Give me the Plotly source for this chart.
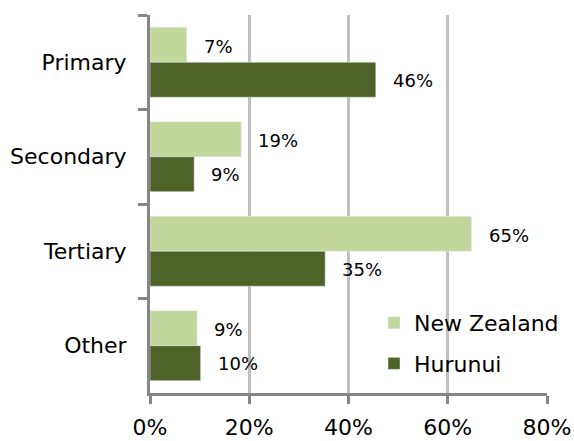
import plotly.graph_objects as go

categories = ["Primary", "Secondary", "Tertiary", "Other"]
nz_values = [7.4, 18.4, 64.8, 9.5]
hurunui_values = [45.5, 8.9, 35.3, 10.2]
nz_labels = ["7%", "19%", "65%", "9%"]
hurunui_labels = ["46%", "9%", "35%", "10%"]
x_ticks = [0, 20, 40, 60, 80]
x_tick_labels = ["0%", "20%", "40%", "60%", "80%"]

FONT = "DejaVu Sans"
AXIS_COLOR = "#868686"

fig = go.Figure()
fig.add_trace(go.Bar(
    y=categories, x=nz_values, orientation="h", name="New Zealand",
    marker=dict(color="#c3d69b"), legendgroup="a",
))
fig.add_trace(go.Bar(
    y=categories, x=hurunui_values, orientation="h", name="Hurunui",
    marker=dict(color="#4f6228"), legendgroup="b",
))

annotations = []
for cat, v, lab in zip(categories, nz_values, nz_labels):
    annotations.append(dict(x=v, y=cat, text=lab, showarrow=False, xanchor="left",
                            xshift=15, yshift=16, font=dict(family=FONT, size=18, color="#000")))
for cat, v, lab in zip(categories, hurunui_values, hurunui_labels):
    annotations.append(dict(x=v, y=cat, text=lab, showarrow=False, xanchor="left",
                            xshift=15, yshift=-18, font=dict(family=FONT, size=18, color="#000")))

fig.update_layout(
    width=574, height=441,
    margin=dict(l=150, r=27, t=15, b=48, autoexpand=False),
    paper_bgcolor="white", plot_bgcolor="white",
    barmode="group", bargap=0.26, bargroupgap=0,
    font=dict(family=FONT, size=22, color="#000"),
    showlegend=True,
    legend=dict(x=(374 - 150) / 397, xanchor="left", y=(393 - 302) / 378, yanchor="top",
                traceorder="grouped", font=dict(family=FONT, size=22, color="#000"),
                bgcolor="rgba(0,0,0,0)", tracegroupgap=9, itemwidth=30),
    annotations=annotations,
)
fig.update_xaxes(
    range=[0, 80], tickvals=x_ticks, ticktext=x_tick_labels, automargin=False,
    showgrid=True, gridcolor="#c0c0c0", gridwidth=3, zeroline=False,
    showline=True, linecolor=AXIS_COLOR, linewidth=3,
    ticks="outside", ticklen=8, tickwidth=3, tickcolor=AXIS_COLOR,
    ticklabelstandoff=5, tickfont=dict(family=FONT, size=22, color="#000"),
)
fig.update_yaxes(
    type="category", categoryorder="array", categoryarray=categories,
    autorange="reversed", tickson="boundaries", automargin=False,
    showgrid=False, zeroline=False,
    showline=True, linecolor=AXIS_COLOR, linewidth=3,
    ticks="outside", ticklen=9, tickwidth=3, tickcolor=AXIS_COLOR,
    ticklabelstandoff=16, tickfont=dict(family=FONT, size=22, color="#000"),
)

fig.write_html("out.html", config={"displayModeBar": False},
               post_script="document.body.style.margin='0';document.body.style.padding='0';")
